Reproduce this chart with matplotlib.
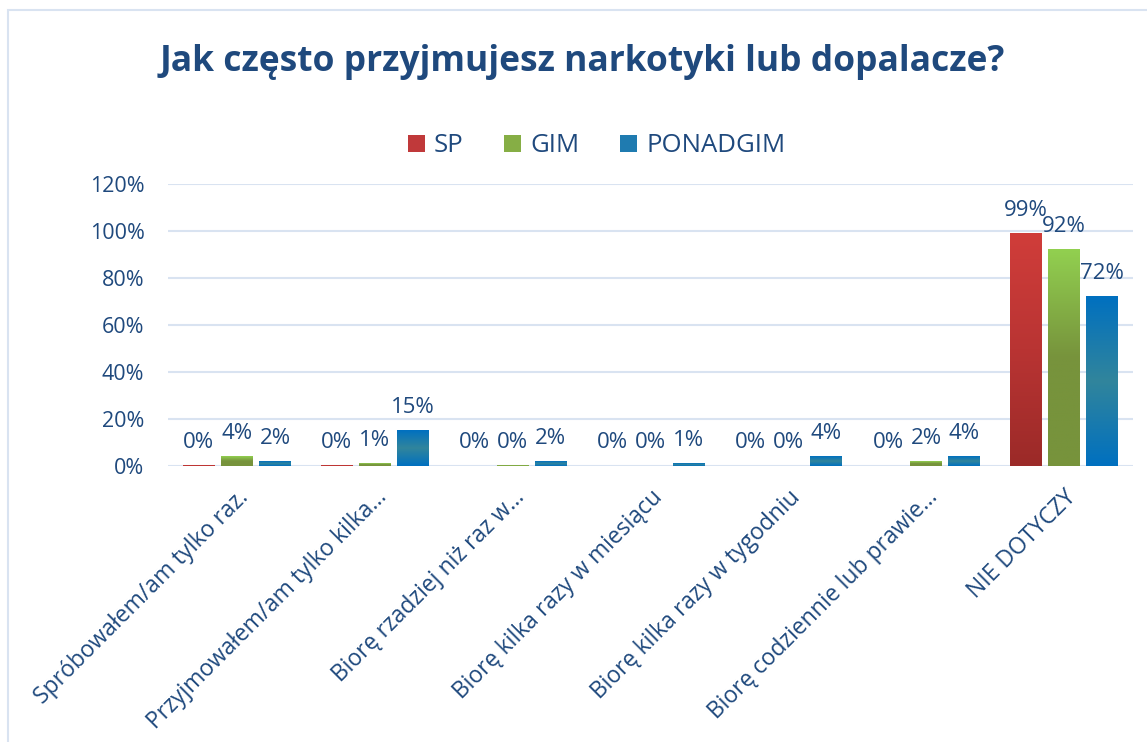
import numpy as np
import matplotlib

matplotlib.use("Agg")
import matplotlib.pyplot as plt  # noqa: E402
from matplotlib.colors import LinearSegmentedColormap  # noqa: E402
from matplotlib.patches import Rectangle  # noqa: E402

TITLE = "Jak często przyjmujesz narkotyki lub dopalacze?"
CATEGORIES = [
    "Spróbowałem/am tylko raz.",
    "Przyjmowałem/am tylko kilka…",
    "Biorę rzadziej niż raz w…",
    "Biorę kilka razy w miesiącu",
    "Biorę kilka razy w tygodniu",
    "Biorę codziennie lub prawie…",
    "NIE DOTYCZY",
]
SERIES = ["SP", "GIM", "PONADGIM"]
SP = [0.3, 0.3, 0, 0, 0, 0, 99]
GIM = [4, 1, 0.3, 0, 0, 2, 92]
PONADGIM = [2, 15, 2, 1, 4, 4, 72]
YTICKS = [0, 20, 40, 60, 80, 100, 120]

TEXT = "#1F497D"
GRID = "#D9E3F1"
# bottom -> top gradient stops per series
GRADIENTS = {
    "SP": ["#9B2A28", "#B93433", "#D03D3A"],
    "GIM": ["#77933C", "#77933C", "#92D050"],
    "PONADGIM": ["#0070C0", "#31859C", "#0070C0"],
}
SOLID = {"SP": "#C0393A", "GIM": "#86AE45", "PONADGIM": "#1F7BB0"}

plt.rcParams["font.family"] = ["Open Sans", "DejaVu Sans"]

fig = plt.figure(figsize=(11.47, 7.42), dpi=100)
ax = fig.add_axes([0.1465, 0.372, 0.8413, 0.380])

# outer chart frame
fig.patches.append(Rectangle((8 / 1147, -0.01), 1.2, 1 - 10 / 742 + 0.01,
                             transform=fig.transFigure, fill=False,
                             edgecolor=GRID, linewidth=1.5))

x = np.arange(len(CATEGORIES))
width = 0.232
step = 0.276
grad = np.linspace(0, 1, 256).reshape(-1, 1)

for i, (name, vals) in enumerate(zip(SERIES, [SP, GIM, PONADGIM])):
    cmap = LinearSegmentedColormap.from_list(name, GRADIENTS[name])
    xs = x + (i - 1) * step
    bars = ax.bar(xs, vals, width, color="none", edgecolor="none", zorder=3)
    for b, v in zip(bars, vals):
        x0 = b.get_x()
        if v > 0:
            ax.imshow(grad, cmap=cmap, origin="lower", aspect="auto", zorder=3,
                      extent=[x0, x0 + width, 0, v])
        ax.annotate(f"{v:.0f}%", (x0 + width / 2, v),
                    xytext=(0, 9), textcoords="offset points",
                    ha="center", va="bottom", fontsize=16, color=TEXT)
    ax.bar(0, 0, color=SOLID[name], label=name)

ax.set_xlim(-0.5, len(CATEGORIES) - 0.5)
ax.set_ylim(0, 120)
ax.set_yticks(YTICKS)
ax.set_yticklabels([f"{t}%" for t in YTICKS])
ax.grid(axis="y", color=GRID, linewidth=1.5, zorder=0)
ax.set_axisbelow(True)
for s in ax.spines.values():
    s.set_visible(False)
ax.tick_params(axis="y", length=0, labelsize=15.5, colors=TEXT, pad=17)
ax.tick_params(axis="x", length=0, labelsize=16.5, colors=TEXT, pad=14)
ax.set_xticks(x)
ax.set_xticklabels(CATEGORIES, rotation=45, ha="right", rotation_mode="anchor")

ax.legend(loc="center", bbox_to_anchor=(0.444, 1.135), ncol=3,
          frameon=False, fontsize=18.5, labelcolor=TEXT, handlelength=0.65,
          handleheight=0.65, columnspacing=1.6, handletextpad=0.35)

fig.text(0.508, 0.917, TITLE, ha="center", va="center", fontsize=25.5,
         fontweight="bold", color=TEXT)

fig.savefig("out.png", dpi=100)
